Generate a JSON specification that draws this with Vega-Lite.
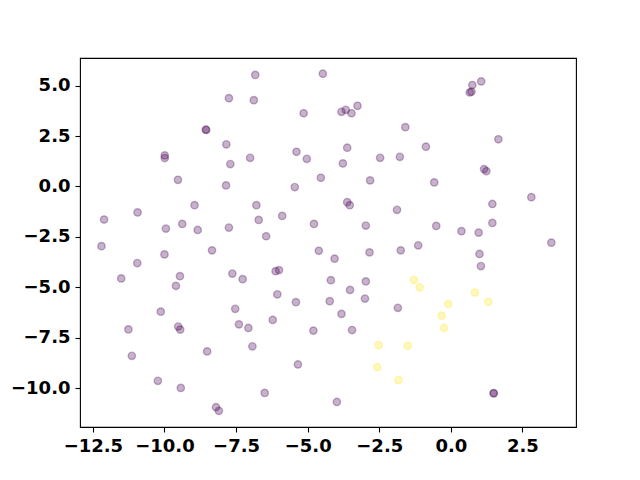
{
  "$schema": "https://vega.github.io/schema/vega-lite/v6.json",
  "width": 496,
  "height": 369,
  "autosize": "none",
  "padding": {"left": 80, "top": 58, "right": 64, "bottom": 53},
  "background": "white",
  "config": {
    "view": {"stroke": "#000", "strokeWidth": 1.1},
    "axis": {
      "grid": false,
      "domain": false,
      "tickColor": "#000",
      "tickSize": 5,
      "tickWidth": 1.1,
      "labelFont": "DejaVu Sans",
      "labelFontWeight": "bold",
      "labelFontSize": 18,
      "labelColor": "#000",
      "labelPadding": 5
    }
  },
  "data": {
    "values": [
      {"x": -7.75, "y": 4.38, "c": 0}, {"x": -8.56, "y": 2.82, "c": 0}, {"x": -8.54, "y": 2.80, "c": 0},
      {"x": -7.84, "y": 2.09, "c": 0}, {"x": -9.99, "y": 1.54, "c": 0}, {"x": -9.99, "y": 1.41, "c": 0},
      {"x": -7.70, "y": 1.11, "c": 0}, {"x": -9.53, "y": 0.33, "c": 0}, {"x": -7.85, "y": 0.05, "c": 0},
      {"x": -8.95, "y": -0.93, "c": 0}, {"x": -10.94, "y": -1.29, "c": 0}, {"x": -12.11, "y": -1.64, "c": 0},
      {"x": -9.95, "y": -2.09, "c": 0}, {"x": -9.38, "y": -1.86, "c": 0}, {"x": -8.84, "y": -2.16, "c": 0},
      {"x": -7.75, "y": -2.04, "c": 0}, {"x": -12.2, "y": -2.96, "c": 0}, {"x": -7.01, "y": 1.42, "c": 0},
      {"x": -6.83, "y": 5.53, "c": 0}, {"x": -4.47, "y": 5.59, "c": 0}, {"x": -6.88, "y": 4.28, "c": 0},
      {"x": -5.14, "y": 3.63, "c": 0}, {"x": -3.82, "y": 3.70, "c": 0}, {"x": -3.67, "y": 3.80, "c": 0},
      {"x": -3.47, "y": 3.63, "c": 0}, {"x": -3.26, "y": 4.0, "c": 0}, {"x": -1.59, "y": 2.94, "c": 0},
      {"x": -5.39, "y": 1.72, "c": 0}, {"x": -5.03, "y": 1.37, "c": 0}, {"x": -3.62, "y": 1.92, "c": 0},
      {"x": -3.77, "y": 1.14, "c": 0}, {"x": -2.47, "y": 1.42, "c": 0}, {"x": -1.78, "y": 1.47, "c": 0},
      {"x": -4.54, "y": 0.43, "c": 0}, {"x": -5.45, "y": -0.03, "c": 0}, {"x": -2.82, "y": 0.30, "c": 0},
      {"x": -6.79, "y": -0.93, "c": 0}, {"x": -3.62, "y": -0.78, "c": 0}, {"x": -3.53, "y": -0.93, "c": 0},
      {"x": -1.88, "y": -1.16, "c": 0}, {"x": -6.71, "y": -1.66, "c": 0}, {"x": -5.89, "y": -1.46, "c": 0},
      {"x": -4.78, "y": -1.86, "c": 0}, {"x": -2.97, "y": -1.94, "c": 0}, {"x": -6.45, "y": -2.47, "c": 0},
      {"x": 0.75, "y": 5.03, "c": 0}, {"x": 1.06, "y": 5.21, "c": 0}, {"x": 0.66, "y": 4.66, "c": 0},
      {"x": 0.72, "y": 4.70, "c": 0}, {"x": 1.66, "y": 2.34, "c": 0}, {"x": -0.87, "y": 1.97, "c": 0},
      {"x": 1.16, "y": 0.86, "c": 0}, {"x": 1.24, "y": 0.76, "c": 0}, {"x": -0.58, "y": 0.20, "c": 0},
      {"x": 1.45, "y": -0.87, "c": 0}, {"x": 2.81, "y": -0.53, "c": 0}, {"x": -0.51, "y": -1.96, "c": 0},
      {"x": 0.37, "y": -2.22, "c": 0}, {"x": 0.97, "y": -2.29, "c": 0}, {"x": 1.45, "y": -1.81, "c": 0},
      {"x": 3.51, "y": -2.79, "c": 0}, {"x": -1.14, "y": -2.92, "c": 0},
      {"x": -10.95, "y": -3.80, "c": 0}, {"x": -10.0, "y": -3.37, "c": 0}, {"x": -8.34, "y": -3.17, "c": 0},
      {"x": -11.51, "y": -4.56, "c": 0}, {"x": -9.46, "y": -4.45, "c": 0}, {"x": -9.6, "y": -4.93, "c": 0},
      {"x": -7.63, "y": -4.32, "c": 0}, {"x": -7.27, "y": -4.6, "c": 0}, {"x": -10.13, "y": -6.21, "c": 0},
      {"x": -7.53, "y": -6.07, "c": 0}, {"x": -11.26, "y": -7.09, "c": 0}, {"x": -9.52, "y": -6.95, "c": 0},
      {"x": -9.45, "y": -7.1, "c": 0}, {"x": -7.40, "y": -6.84, "c": 0}, {"x": -11.14, "y": -8.40, "c": 0},
      {"x": -8.51, "y": -8.18, "c": 0}, {"x": -10.23, "y": -9.64, "c": 0}, {"x": -9.43, "y": -9.99, "c": 0},
      {"x": -8.20, "y": -10.95, "c": 0}, {"x": -8.10, "y": -11.13, "c": 0},
      {"x": -4.61, "y": -3.19, "c": 0}, {"x": -4.06, "y": -3.58, "c": 0}, {"x": -2.84, "y": -3.27, "c": 0},
      {"x": -1.75, "y": -3.17, "c": 0}, {"x": -6.12, "y": -4.20, "c": 0}, {"x": -6.0, "y": -4.15, "c": 0},
      {"x": -4.19, "y": -4.65, "c": 0}, {"x": -2.97, "y": -4.71, "c": 0}, {"x": -3.52, "y": -5.13, "c": 0},
      {"x": -6.06, "y": -5.35, "c": 0}, {"x": -5.41, "y": -5.74, "c": 0}, {"x": -4.23, "y": -5.69, "c": 0},
      {"x": -3.0, "y": -5.56, "c": 0}, {"x": -1.85, "y": -6.02, "c": 0}, {"x": -3.82, "y": -6.32, "c": 0},
      {"x": -7.07, "y": -7.02, "c": 0}, {"x": -6.22, "y": -6.62, "c": 0}, {"x": -4.80, "y": -7.15, "c": 0},
      {"x": -3.45, "y": -7.12, "c": 0}, {"x": -6.93, "y": -7.93, "c": 0}, {"x": -5.34, "y": -8.83, "c": 0},
      {"x": -6.50, "y": -10.24, "c": 0}, {"x": -3.98, "y": -10.69, "c": 0},
      {"x": 1.0, "y": -3.35, "c": 0}, {"x": 1.05, "y": -3.95, "c": 0}, {"x": 1.49, "y": -10.25, "c": 0},
      {"x": 1.50, "y": -10.26, "c": 0},
      {"x": -2.52, "y": -7.87, "c": 1}, {"x": -1.51, "y": -7.90, "c": 1}, {"x": -2.57, "y": -8.96, "c": 1},
      {"x": -1.83, "y": -9.61, "c": 1}, {"x": -1.29, "y": -4.63, "c": 1}, {"x": -1.09, "y": -5.01, "c": 1},
      {"x": 0.84, "y": -5.26, "c": 1}, {"x": 1.31, "y": -5.72, "c": 1}, {"x": -0.09, "y": -5.83, "c": 1},
      {"x": -0.32, "y": -6.41, "c": 1}, {"x": -0.24, "y": -7.02, "c": 1}
    ]
  },
  "mark": {
    "type": "point",
    "filled": true,
    "size": 54,
    "opacity": 1,
    "fillOpacity": 0.3,
    "strokeOpacity": 0.3,
    "strokeWidth": 1.4
  },
  "encoding": {
    "x": {
      "field": "x",
      "type": "quantitative",
      "scale": {"domain": [-12.95, 4.37], "nice": false, "zero": false},
      "axis": {"values": [-12.5, -10, -7.5, -5, -2.5, 0, 2.5], "format": ".1f", "title": null}
    },
    "y": {
      "field": "y",
      "type": "quantitative",
      "scale": {"domain": [-11.93, 6.37], "nice": false, "zero": false},
      "axis": {"values": [-10, -7.5, -5, -2.5, 0, 2.5, 5], "format": ".1f", "title": null}
    },
    "fill": {
      "field": "c",
      "type": "nominal",
      "scale": {"domain": [0, 1], "range": ["#440154", "#fde725"]},
      "legend": null
    },
    "stroke": {
      "field": "c",
      "type": "nominal",
      "scale": {"domain": [0, 1], "range": ["#440154", "#fde725"]},
      "legend": null
    }
  }
}
